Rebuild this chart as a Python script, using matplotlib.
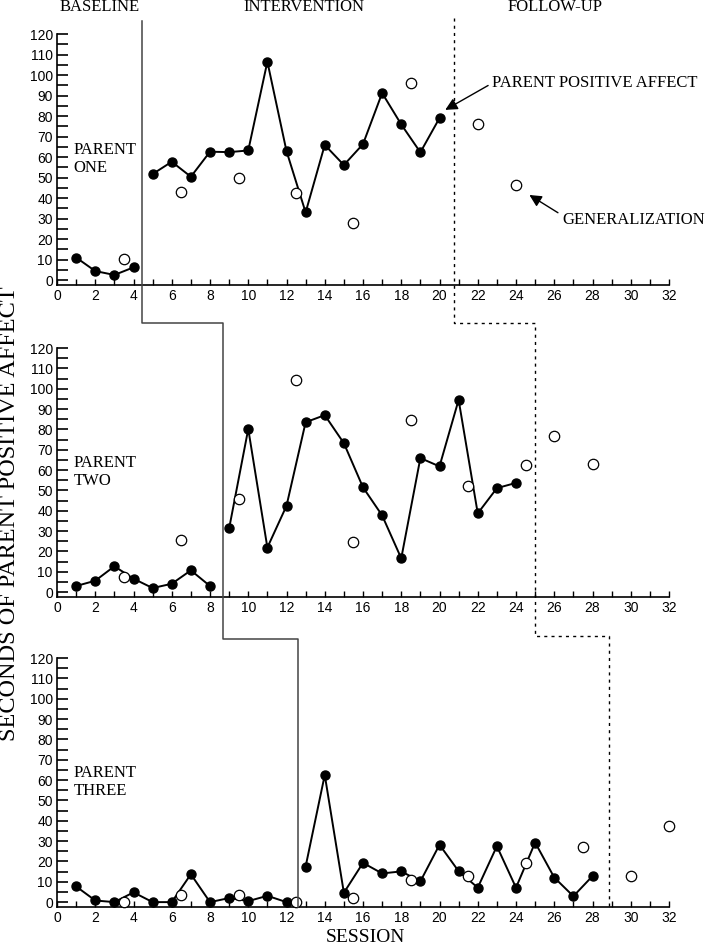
import matplotlib.pyplot as plt
import matplotlib.transforms as mtransforms
from matplotlib.lines import Line2D

plt.rcParams['font.family'] = ['Liberation Serif', 'DejaVu Serif']

# =====================================================
# data
# =====================================================
p1_sessions = [1, 2, 3, 4, 5, 6, 7, 8, 9, 10, 11, 12, 13, 14, 15, 16, 17, 18, 19, 20]
p1_affect = [11, 4.4, 2.5, 6.2, 51.7, 57.7, 50.4, 62.6, 62.4, 63.2, 106.5, 62.9,
             33, 65.9, 56.1, 66.3, 91.2, 75.9, 62.3, 79]
p1_gen_sessions = [3.5, 6.5, 9.5, 12.5, 15.5, 18.5, 22, 24]
p1_gen = [10.1, 43.1, 49.6, 42.6, 27.7, 96, 76.1, 46.2]

p2_sessions = list(range(1, 25))
p2_affect = [3.0, 5.6, 12.7, 6.6, 2.0, 4.1, 10.7, 3.0, 31.3, 80.2, 21.9, 42.4,
             83.5, 87, 73.2, 51.5, 37.7, 16.6, 65.9, 61.8, 94.5, 38.7, 51.1, 53.7]
p2_gen_sessions = [3.5, 6.5, 9.5, 12.5, 15.5, 18.5, 21.5, 24.5, 26, 28]
p2_gen = [7.4, 25.5, 45.9, 104.5, 24.4, 84.5, 52.1, 62.6, 76.9, 63]

p3_sessions = list(range(1, 29))
p3_affect = [7.7, 0.8, 0, 4.8, 0, 0, 13.7, 0, 2.0, 0.5, 3.1, 0, 17.5, 62.5,
             4.6, 19.3, 14.1, 15.1, 10.2, 28.2, 15.2, 7.1, 27.5, 7.1, 29.3, 12.1, 2.9, 12.8]
p3_gen_sessions = [3.5, 6.5, 9.5, 12.5, 15.5, 18.5, 21.5, 24.5, 27.5, 30, 32]
p3_gen = [0, 3.4, 3.6, 0, 2, 11, 12.6, 19, 27.2, 13, 37.3]

panel_names = ["PARENT\nONE", "PARENT\nTWO", "PARENT\nTHREE"]

# phase change points (session units) for each parent
intervention_start = [4.45, 8.67, 12.58]
followup_start = [20.74, 24.98, 28.88]

x_ticks = list(range(0, 33))
x_labels = [str(t) if t % 2 == 0 else "" for t in x_ticks]
y_ticks = list(range(0, 121, 5))
y_labels = [str(t) if t % 10 == 0 else "" for t in y_ticks]

# =====================================================
# figure
# =====================================================
W, H = 708, 948
fig = plt.figure(figsize=(W / 100, H / 100), dpi=100)

def fy(py):
    return 1 - py / H

left, right = 57 / W, 669 / W
panels = [(34, 285), (348, 597), (658, 907)]   # pixel top / bottom of each axes

data = [
    (p1_sessions, p1_affect, p1_gen_sessions, p1_gen),
    (p2_sessions, p2_affect, p2_gen_sessions, p2_gen),
    (p3_sessions, p3_affect, p3_gen_sessions, p3_gen),
]

axes = []
for i, (top, bot) in enumerate(panels):
    ax = fig.add_axes([left, fy(bot), right - left, (bot - top) / H])
    xs, ys, gx, gy = data[i]
    phase = intervention_start[i]

    # baseline and intervention drawn as separate lines
    bx = [x for x in xs if x < phase]
    by = [y for x, y in zip(xs, ys) if x < phase]
    ix = [x for x in xs if x > phase]
    iy = [y for x, y in zip(xs, ys) if x > phase]
    for sx, sy in [(bx, by), (ix, iy)]:
        ax.plot(sx, sy, color="black", lw=1.4, marker="o", ms=6.5,
                mfc="black", mec="black", clip_on=False, zorder=3)
    ax.plot(gx, gy, ls="none", marker="o", ms=7.5, mfc="white",
            mec="black", mew=0.9, clip_on=False, zorder=4)

    ax.set_xlim(0, 32)
    ax.set_ylim(-2.4, 120)
    ax.spines["top"].set_visible(False)
    ax.spines["right"].set_visible(False)
    ax.spines["left"].set_linewidth(1.2)
    ax.spines["bottom"].set_linewidth(1.2)

    ax.set_xticks(x_ticks)
    ax.set_xticklabels(x_labels, family="Liberation Sans", fontsize=10)
    ax.set_yticks(y_ticks)
    ax.set_yticklabels(y_labels, family="Liberation Sans", fontsize=10)
    ax.tick_params(axis="x", direction="in", length=4, width=1, pad=3)
    ax.tick_params(axis="y", direction="in", length=8, width=1.2, pad=3)

    ax.text(0.85, 59, panel_names[i], fontsize=12, va="center", ha="left",
            linespacing=1.15)
    axes.append(ax)

# =====================================================
# phase change lines across panels
# =====================================================
trans = mtransforms.blended_transform_factory(axes[0].transData, fig.transFigure)

solid_x = [intervention_start[0], intervention_start[0], intervention_start[1],
           intervention_start[1], intervention_start[2], intervention_start[2]]
solid_y = [fy(21), fy(323), fy(323), fy(639), fy(639), fy(907)]
fig.add_artist(Line2D(solid_x, solid_y, transform=trans, color="#444444", lw=1.1))

dash_x = [followup_start[0], followup_start[0], followup_start[1],
          followup_start[1], followup_start[2], followup_start[2]]
dash_y = [fy(18), fy(323), fy(323), fy(636), fy(636), fy(907)]
fig.add_artist(Line2D(dash_x, dash_y, transform=trans, color="black", lw=1.0,
                      ls=(0, (2.2, 3))))

# =====================================================
# labels
# =====================================================
fig.text(100 / W, fy(7), "BASELINE", fontsize=12, ha="center", va="center")
fig.text(304 / W, fy(7), "INTERVENTION", fontsize=12, ha="center", va="center")
fig.text(555 / W, fy(7), "FOLLOW-UP", fontsize=12, ha="center", va="center")

fig.text(10 / W, fy(514), "SECONDS OF PARENT POSITIVE AFFECT", fontsize=17.5,
         rotation=90, ha="center", va="center")
fig.text(365 / W, fy(946), "SESSION", fontsize=14, ha="center", va="bottom")

ax1 = axes[0]
ax1.annotate("PARENT POSITIVE AFFECT", xy=(20.3, 83), xytext=(22.75, 96),
             fontsize=12, va="center", ha="left", annotation_clip=False,
             arrowprops=dict(arrowstyle="-|>", color="black", lw=1,
                             mutation_scale=18, shrinkA=1, shrinkB=0,
                             relpos=(0, 0.5)))
ax1.annotate("GENERALIZATION", xy=(24.7, 41.5), xytext=(26.4, 29.3),
             fontsize=12, va="center", ha="left", annotation_clip=False,
             arrowprops=dict(arrowstyle="-|>", color="black", lw=1,
                             mutation_scale=18, shrinkA=1, shrinkB=0,
                             relpos=(0, 0.8)))

fig.savefig("out.png", dpi=100)
